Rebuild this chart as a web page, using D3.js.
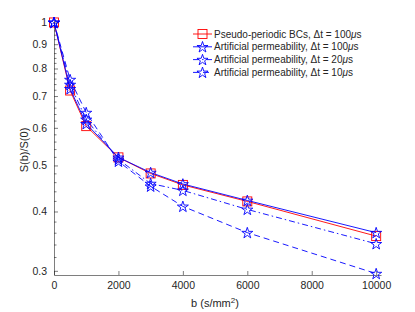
<!DOCTYPE html>
<html>
<head>
<meta charset="utf-8">
<script src="https://cdn.jsdelivr.net/npm/d3@7"></script>
<style>
  body { margin: 0; background: #fff; }
  svg { display: block; font-family: "Liberation Sans", Arial, sans-serif; }
</style>
</head>
<body>
<svg width="415" height="312"></svg>
<script>
// b-values (s/mm^2)
const bValues = [0, 500, 1000, 2000, 3000, 4000, 6000, 10000];

// signal attenuation S(b)/S(0)
const pseudoPeriodic = [1, 0.719, 0.605, 0.52, 0.481, 0.455, 0.42, 0.355];
const artPerm100 = [1, 0.725, 0.612, 0.52, 0.483, 0.457, 0.422, 0.361];
const artPerm20 = [1, 0.74, 0.625, 0.515, 0.458, 0.443, 0.404, 0.342];
const artPerm10 = [1, 0.758, 0.646, 0.51, 0.452, 0.41, 0.361, 0.296];

// legend text: [prefix, delta-t value]
const legendLabels = [
  ["Pseudo-periodic BCs, \u0394t = ", "100"],
  ["Artificial permeability, \u0394t = ", "100"],
  ["Artificial permeability, \u0394t = ", "20"],
  ["Artificial permeability, \u0394t = ", "10"]
];

const xTicks = [0, 2000, 4000, 6000, 8000, 10000];
const yTicks = [0.3, 0.4, 0.5, 0.6, 0.7, 0.8, 0.9, 1];

const svg = d3.select("svg");
const textColor = "#262626";
const axisColor = "#262626";

const x = d3.scaleLinear().domain([0, 10150]).range([54, 381]);
const y = d3.scaleLog().domain([0.294, 1.012]).range([275, 20]);

const series = [
  { name: legendLabels[0], values: pseudoPeriodic, color: "#ff0000", dash: null, symbol: "square" },
  { name: legendLabels[1], values: artPerm100, color: "#0000ff", dash: null, symbol: "star" },
  { name: legendLabels[2], values: artPerm20, color: "#0000ff", dash: "6,3,1.5,3", symbol: "star" },
  { name: legendLabels[3], values: artPerm10, color: "#0000ff", dash: "6,4", symbol: "star" }
];

// axes (ticks point inward, like MATLAB)
const xAxis = svg.append("g")
  .attr("transform", `translate(0,${y.range()[0]})`)
  .call(d3.axisBottom(x).tickValues(xTicks).tickSizeInner(-4).tickSizeOuter(0).tickPadding(7).tickFormat(d3.format("d")));

const minorY = d3.range(0.3, 1.001, 0.02).map(v => +v.toFixed(2)).filter(v => !yTicks.some(t => Math.abs(t - v) < 1e-6));

svg.append("g")
  .attr("transform", `translate(${x.range()[0]},0)`)
  .selectAll("line")
  .data(minorY)
  .join("line")
  .attr("x1", 0).attr("x2", 2.5)
  .attr("y1", d => y(d)).attr("y2", d => y(d))
  .attr("stroke", axisColor).attr("stroke-width", 0.6);

const yAxis = svg.append("g")
  .attr("transform", `translate(${x.range()[0]},0)`)
  .call(d3.axisLeft(y).tickValues(yTicks).tickSizeInner(-4).tickSizeOuter(0).tickPadding(7).tickFormat(d => d3.format("")(d)));

[xAxis, yAxis].forEach(g => {
  g.select(".domain").attr("stroke", axisColor).attr("stroke-width", 0.6);
  g.selectAll(".tick line").attr("stroke", axisColor).attr("stroke-width", 0.6);
  g.selectAll(".tick text").attr("fill", textColor).style("font-size", "10.5px");
});

// axis labels
const xLabel = svg.append("text")
  .attr("x", 215).attr("y", 307)
  .attr("text-anchor", "middle")
  .attr("fill", textColor)
  .style("font-size", "11px");
xLabel.append("tspan").text("b (s/mm");
xLabel.append("tspan").attr("dy", -4).style("font-size", "8px").text("2");
xLabel.append("tspan").attr("dy", 4).text(")");

svg.append("text")
  .attr("transform", "translate(28,150) rotate(-90)")
  .attr("text-anchor", "middle")
  .attr("fill", textColor)
  .style("font-size", "11px")
  .text("S(b)/S(0)");

const line = d3.line().x((d, i) => x(bValues[i])).y(d => y(d));

const starPath = d3.symbol(d3.symbolStar, 38)();

function drawMarker(g, s, cx, cy) {
  if (s.symbol === "square") {
    g.append("rect")
      .attr("x", cx - 4.5).attr("y", cy - 4.5)
      .attr("width", 9).attr("height", 9)
      .attr("fill", "none").attr("stroke", s.color).attr("stroke-width", 0.9);
  } else {
    g.append("path")
      .attr("d", starPath)
      .attr("transform", `translate(${cx},${cy + 0.5})`)
      .attr("fill", "none").attr("stroke", s.color).attr("stroke-width", 0.9);
  }
}

series.forEach(s => {
  const g = svg.append("g");
  g.append("path")
    .datum(s.values)
    .attr("d", line)
    .attr("fill", "none")
    .attr("stroke", s.color)
    .attr("stroke-width", 0.9)
    .attr("stroke-dasharray", s.dash);
  s.values.forEach((v, i) => drawMarker(g, s, x(bValues[i]), y(v)));
});

// legend
const legend = svg.append("g").attr("transform", "translate(193,34)");
series.forEach((s, i) => {
  const row = legend.append("g").attr("transform", `translate(0,${i * 12.8})`);
  row.append("line")
    .attr("x1", 0).attr("x2", 19).attr("y1", 0).attr("y2", 0)
    .attr("stroke", s.color).attr("stroke-width", 0.9)
    .attr("stroke-dasharray", s.dash);
  drawMarker(row, s, 9.5, 0);
  const t = row.append("text")
    .attr("x", 21).attr("y", 3.6)
    .attr("fill", textColor)
    .style("font-size", "10px");
  t.append("tspan").text(s.name[0] + s.name[1]);
  t.append("tspan").style("font-style", "italic").text("\u03bc");
  t.append("tspan").text("s");
});
</script>
</body>
</html>
